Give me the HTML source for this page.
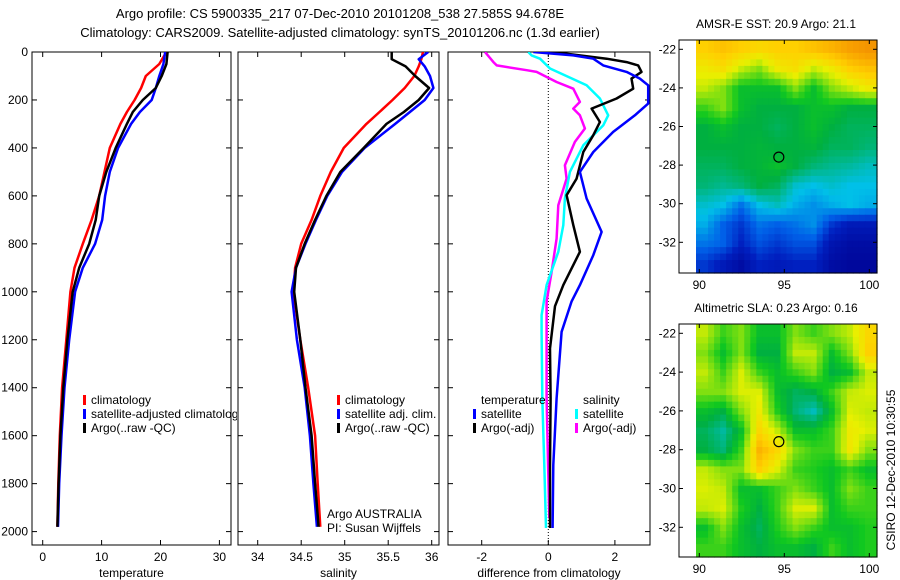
<!DOCTYPE html>
<html><head><meta charset="utf-8"><style>
html,body{margin:0;padding:0;background:#fff;}
svg{display:block;font-family:"Liberation Sans",sans-serif;}
</style></head><body>
<svg id="fig" width="900" height="580" viewBox="0 0 900 580" xmlns="http://www.w3.org/2000/svg">
<text x="340" y="18" font-size="13" text-anchor="middle">Argo profile: CS 5900335_217 07-Dec-2010 20101208_538 27.585S 94.678E</text>
<text x="340" y="37" font-size="13" text-anchor="middle">Climatology: CARS2009. Satellite-adjusted climatology: synTS_20101206.nc (1.3d earlier)</text>
<defs>
<clipPath id="c1"><rect x="32" y="52" width="205" height="493"/></clipPath>
<clipPath id="c2"><rect x="238" y="52" width="201" height="493"/></clipPath>
<clipPath id="c3"><rect x="448" y="52" width="202" height="493"/></clipPath>
</defs>
<g id="g1"></g>
<g id="g2"></g>
<g id="g3"></g>
<g id="m1"></g>
<g id="m2"></g>
<text x="0" y="0" font-size="12" transform="translate(895,470) rotate(-90)" text-anchor="middle">CSIRO 12-Dec-2010 10:30:55</text>
</svg>
<script>
// ---- data ----
const tDepth=[0,50,100,150,200,250,300,400,500,600,700,800,900,1000,1200,1400,1600,1800,1980];
const tClim=[21.0,19.8,17.5,16.7,15.6,14.3,13.2,11.4,10.5,9.6,8.3,6.8,5.4,4.7,4.0,3.3,2.9,2.65,2.5];
const tSat=[20.8,20.5,19.8,19.2,18.5,16.5,15.0,12.8,11.4,10.6,10.1,8.9,6.8,5.5,4.5,3.7,3.2,2.8,2.6];
const tArgo=[21.2,21.0,20.2,19.2,17.0,15.3,14.3,12.4,10.8,9.6,9.0,7.9,6.2,5.1,4.2,3.5,3.0,2.7,2.5];
const sDepth=[0,30,60,100,150,200,250,300,400,500,600,700,800,900,1000,1200,1400,1600,1800,1980];
const sClim=[35.90,35.88,35.85,35.80,35.69,35.55,35.40,35.25,34.99,34.84,34.72,34.62,34.50,34.43,34.41,34.49,34.58,34.66,34.69,34.72];
const sSat=[35.96,35.85,35.92,35.98,36.02,35.92,35.75,35.58,35.23,34.97,34.80,34.67,34.55,34.44,34.39,34.45,34.54,34.60,34.64,34.68];
const sArgo=[35.54,35.54,35.70,35.81,35.97,35.85,35.68,35.48,35.22,34.95,34.79,34.66,34.54,34.44,34.42,34.49,34.55,34.62,34.66,34.70];
const dTSatDepth=[0,14,28,56,83,111,139,215,264,333,417,500,611,750,847,972,1040,1167,1444,1722,1985];
const dTSat=[-0.45,0.75,1.35,1.65,2.35,2.75,3.0,3.0,2.6,1.95,1.35,0.95,1.15,1.6,1.35,0.95,0.7,0.4,0.25,0.15,0.13];
const dTArgoDepth=[0,7,28,42,56,83,111,153,194,236,292,347,417,528,597,722,833,972,1060,1236,1444,1722,1985];
const dTArgo=[-0.1,0.55,1.75,2.35,2.7,2.8,2.5,2.55,2.05,1.3,1.55,1.35,1.05,0.85,0.55,0.75,0.95,0.45,0.2,0.05,0.07,0.05,0.05];
const dSSatDepth=[0,14,28,69,139,194,264,306,389,500,611,722,833,972,1097,1167,1444,1722,1985];
const dSSat=[-0.6,-0.5,-0.25,0.05,1.15,1.55,1.8,1.65,1.05,0.65,0.5,0.45,0.3,-0.05,-0.2,-0.2,-0.18,-0.12,-0.07];
const dSArgoDepth=[0,42,56,76,83,125,153,208,236,264,319,375,472,528,639,778,917,1040,1444,1944];
const dSArgo=[-1.9,-1.65,-1.55,-0.65,-0.35,0.25,0.75,0.95,0.75,0.95,1.1,0.8,0.5,0.55,0.3,0.25,0.1,-0.05,-0.05,0.03];
const depthTicks=[0,200,400,600,800,1000,1200,1400,1600,1800,2000];
const tTicks=[0,10,20,30];
const sTicks=[34,34.5,35,35.5,36];
const dTicks=[-2,0,2];
const sstGrid=[
[0.72,0.75,0.72,0.7,0.72,0.72,0.75,0.78,0.82,0.85],
[0.65,0.68,0.6,0.55,0.65,0.68,0.6,0.65,0.72,0.75],
[0.6,0.55,0.45,0.45,0.45,0.55,0.45,0.55,0.6,0.65],
[0.5,0.55,0.45,0.42,0.42,0.42,0.45,0.45,0.42,0.42],
[0.42,0.45,0.42,0.42,0.4,0.42,0.45,0.42,0.4,0.4],
[0.42,0.42,0.42,0.43,0.42,0.42,0.43,0.4,0.4,0.38],
[0.4,0.4,0.42,0.43,0.45,0.42,0.38,0.36,0.35,0.33],
[0.38,0.36,0.38,0.42,0.4,0.32,0.3,0.32,0.3,0.3],
[0.32,0.3,0.22,0.3,0.33,0.28,0.25,0.28,0.3,0.28],
[0.28,0.2,0.15,0.22,0.2,0.22,0.25,0.15,0.1,0.1],
[0.22,0.2,0.12,0.18,0.15,0.18,0.18,0.08,0.05,0.05],
[0.15,0.1,0.05,0.12,0.1,0.12,0.12,0.05,0.03,0.03]];
const slaGrid=[
[0.6,0.5,0.55,0.45,0.45,0.55,0.5,0.55,0.6,0.7],
[0.55,0.45,0.55,0.42,0.42,0.6,0.6,0.45,0.55,0.72],
[0.6,0.5,0.62,0.5,0.45,0.5,0.55,0.42,0.45,0.6],
[0.55,0.55,0.62,0.62,0.45,0.4,0.42,0.5,0.6,0.62],
[0.45,0.42,0.55,0.65,0.48,0.38,0.33,0.45,0.62,0.6],
[0.4,0.35,0.45,0.7,0.6,0.45,0.45,0.5,0.65,0.62],
[0.42,0.38,0.5,0.78,0.7,0.55,0.5,0.5,0.66,0.55],
[0.6,0.55,0.55,0.72,0.62,0.5,0.48,0.45,0.5,0.45],
[0.62,0.6,0.45,0.45,0.5,0.55,0.5,0.45,0.55,0.5],
[0.6,0.62,0.48,0.42,0.5,0.62,0.62,0.45,0.5,0.5],
[0.45,0.55,0.45,0.4,0.48,0.55,0.5,0.45,0.45,0.48],
[0.5,0.5,0.45,0.42,0.45,0.45,0.42,0.5,0.45,0.48]];
const lonTicks=[90,95,100];
const latTicks=[-22,-24,-26,-28,-30,-32];
const argoPos=[94.678,-27.585];

// ---- helpers ----
const NS="http://www.w3.org/2000/svg";
function mk(parent,tag,attrs,txt){const e=document.createElementNS(NS,tag);for(const k in attrs)e.setAttribute(k,attrs[k]);if(txt!==undefined)e.textContent=txt;parent.appendChild(e);return e;}
const yD=d=>52+d*0.2398;
function panel(g,x0,x1,xs,ticks,fmt,clip,xlabel,leftLabels){
  const fr=mk(g,'rect',{x:x0,y:52,width:x1-x0,height:493,fill:'none',stroke:'#000','stroke-width':1});
  
  
  depthTicks.forEach(d=>{const y=yD(d);
    mk(g,'line',{x1:x0,x2:x0+5,y1:y,y2:y,stroke:'#000'});
    mk(g,'line',{x1:x1-5,x2:x1,y1:y,y2:y,stroke:'#000'});
    if(leftLabels){const t=mk(g,'text',{x:x0-4,y:y+4,'font-size':12,'text-anchor':'end'},d);
      
      }
  });
  ticks.forEach(v=>{const x=xs(v);
    mk(g,'line',{x1:x,x2:x,y1:52,y2:57,stroke:'#000'});
    mk(g,'line',{x1:x,x2:x,y1:540,y2:545,stroke:'#000'});
    const t=mk(g,'text',{x:x,y:561,'font-size':12,'text-anchor':'middle'},fmt(v));
    
    
  });
  const xl=mk(g,'text',{x:(x0+x1)/2,y:577,'font-size':12,'text-anchor':'middle'},xlabel);
  
  
  return mk(g,'g',{'clip-path':'url(#'+clip+')'});
}
function line(g,depths,vals,xs,color,name){
  const pts=vals.map((v,i)=>xs(v).toFixed(1)+','+yD(depths[i]).toFixed(1)).join(' ');
  const p=mk(g,'polyline',{points:pts,fill:'none',stroke:color,'stroke-width':2.5,'stroke-linejoin':'round'});
  
  
}
function legend(g,x,y,color,label,name){
  if(color) mk(g,'rect',{x:x,y:y-9,width:3,height:10,fill:color});
  const t=mk(g,'text',{x:x+8,y:y,'font-size':12},label);
  
  
}

// panel 1
const xT=v=>42.7+v*5.89;
const p1=panel(document.getElementById('g1'),32,231,xT,tTicks,v=>v,'c1','temperature',true);
line(p1,tDepth,tClim,xT,'#ff0000','temp-climatology-line');
line(p1,tDepth,tSat,xT,'#0000ff','temp-satellite-line');
line(p1,tDepth,tArgo,xT,'#000000','temp-argo-line');
legend(p1,83,404,'#ff0000','climatology','legend-climatology');
legend(p1,83,418,'#0000ff','satellite-adjusted climatology','legend-satellite');
legend(p1,83,432,'#000000','Argo(..raw -QC)','legend-argo');

// panel 2
const xS=v=>257.7+(v-34)*87;
const p2=panel(document.getElementById('g2'),238,439,xS,sTicks,v=>v,'c2','salinity',false);
line(p2,sDepth,sClim,xS,'#ff0000','sal-climatology-line');
line(p2,sDepth,sSat,xS,'#0000ff','sal-satellite-line');
line(p2,sDepth,sArgo,xS,'#000000','sal-argo-line');
legend(p2,337,404,'#ff0000','climatology','legend-sal-climatology');
legend(p2,337,418,'#0000ff','satellite adj. clim.','legend-sal-satellite');
legend(p2,337,432,'#000000','Argo(..raw -QC)','legend-sal-argo');
const g2=document.getElementById('g2');
let tt=mk(g2,'text',{x:327,y:518,'font-size':12},'Argo AUSTRALIA');


tt=mk(g2,'text',{x:327,y:532,'font-size':12},'PI: Susan Wijffels');



// panel 3
const xDf=v=>548.3+v*33.3;
const p3=panel(document.getElementById('g3'),448,650,xDf,dTicks,v=>v,'c3','difference from climatology',false);
mk(p3,'line',{x1:xDf(0),x2:xDf(0),y1:52,y2:545,stroke:'#000','stroke-dasharray':'1,2','stroke-width':1});
line(p3,dSArgoDepth,dSArgo,xDf,'#ff00ff','diff-sal-argo-line');
line(p3,dSSatDepth,dSSat,xDf,'#00ffff','diff-sal-satellite-line');
line(p3,dTArgoDepth,dTArgo,xDf,'#000000','diff-temp-argo-line');
line(p3,dTSatDepth,dTSat,xDf,'#0000ff','diff-temp-satellite-line');
legend(p3,473,404,null,'temperature','legend-temperature-heading');
legend(p3,473,418,'#0000ff','satellite','legend-diff-temp-satellite');
legend(p3,473,432,'#000000','Argo(-adj)','legend-diff-temp-argo');
legend(p3,575,404,null,'salinity','legend-salinity-heading');
legend(p3,575,418,'#00ffff','satellite','legend-diff-sal-satellite');
legend(p3,575,432,'#ff00ff','Argo(-adj)','legend-diff-sal-argo');

// maps
const stops=[[0,[0,0,144]],[0.12,[0,32,192]],[0.2,[0,96,232]],[0.3,[0,192,232]],[0.36,[0,184,144]],[0.42,[0,176,64]],[0.47,[16,200,32]],[0.55,[128,224,16]],[0.63,[232,240,0]],[0.72,[255,208,0]],[0.82,[248,160,0]],[1,[224,96,0]]];
function cmap(v){for(let i=1;i<stops.length;i++){if(v<=stops[i][0]){const a=stops[i-1],b=stops[i];const t=(v-a[0])/(b[0]-a[0]);return 'rgb('+a[1].map((c,k)=>Math.round(c+(b[1][k]-c)*t)).join(',')+')';}}return 'rgb(224,96,0)';}
function sample(grid,r,c){ // bilinear in grid-index space
  const R=grid.length-1,C=grid[0].length-1;
  r=Math.max(0,Math.min(R,r));c=Math.max(0,Math.min(C,c));
  const r0=Math.floor(r),c0=Math.floor(c),r1=Math.min(R,r0+1),c1=Math.min(C,c0+1);
  const fr=r-r0,fc=c-c0;
  return grid[r0][c0]*(1-fr)*(1-fc)+grid[r0][c1]*(1-fr)*fc+grid[r1][c0]*fr*(1-fc)+grid[r1][c1]*fr*fc;
}
function map(id,top,bot,y22,y32,grid,title,name){
  const g=document.getElementById(id);
  const lx=v=>699.3+(v-90)*17;
  const ly=v=>y22+(-22-v)*(y32-y22)/10;
  const ix0=696,ix1=877;
  const rows=grid.length,cols=grid[0].length;
  const up=3;
  const R=rows*up,C=cols*up;
  const cw=(ix1-ix0)/C,ch=(bot-top)/R;
  for(let r=0;r<R;r++)for(let c=0;c<C;c++){
    const v=sample(grid,(r+0.5)/up-0.5,(c+0.5)/up-0.5);
    const cell=mk(g,'rect',{x:(ix0+c*cw).toFixed(2),y:(top+r*ch).toFixed(2),width:(cw+0.6).toFixed(2),height:(ch+0.6).toFixed(2),fill:cmap(v)});
    
    
  }
  mk(g,'rect',{x:679,y:top,width:198,height:bot-top,fill:'none',stroke:'#000'});
  lonTicks.forEach(v=>{const x=lx(v);
    mk(g,'line',{x1:x,x2:x,y1:top,y2:top+4,stroke:'#000'});
    mk(g,'line',{x1:x,x2:x,y1:bot-4,y2:bot,stroke:'#000'});
    const t=mk(g,'text',{x:x,y:bot+16,'font-size':12,'text-anchor':'middle'},v);
    
    });
  latTicks.forEach(v=>{const y=ly(v);
    mk(g,'line',{x1:679,x2:683,y1:y,y2:y,stroke:'#000'});
    mk(g,'line',{x1:873,x2:877,y1:y,y2:y,stroke:'#000'});
    const t=mk(g,'text',{x:676,y:y+4,'font-size':12,'text-anchor':'end'},v);
    
    });
  const c=mk(g,'circle',{cx:lx(argoPos[0]),cy:ly(argoPos[1]),r:5,fill:'none',stroke:'#000','stroke-width':1.2});
  
  
  const t=mk(g,'text',{x:776,y:top-12,'font-size':12,'text-anchor':'middle'},title);
  
  
}
map('m1',40,273,49.3,242.3,sstGrid,'AMSR-E SST: 20.9 Argo: 21.1','sst');
map('m2',324,557,333.3,527.3,slaGrid,'Altimetric SLA: 0.23 Argo: 0.16','sla');
</script>
</body></html>
